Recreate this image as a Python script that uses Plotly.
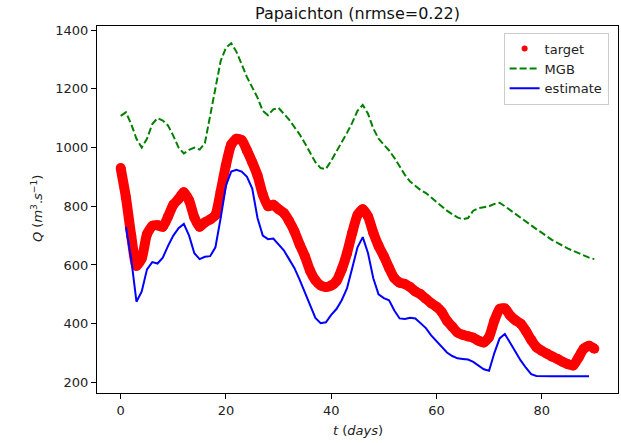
import plotly.graph_objects as go

days = list(range(0, 91))

target = [930, 830, 700, 597, 622, 705, 733, 735, 730, 765,
          805, 825, 848, 820, 762, 730, 745, 755, 770, 850,
          940, 1010, 1030, 1025, 990, 950, 905, 840, 800, 805,
          790, 777, 750, 715, 670, 630, 580, 548, 530, 525,
          530, 545, 585, 640, 710, 770, 790, 765, 710, 665,
          630, 590, 555, 540, 535, 525, 510, 500, 485, 470,
          458, 440, 410, 390, 370, 362, 357, 352, 342, 336,
          355, 410, 450, 452, 428, 412, 400, 375, 345, 320,
          308, 298, 288, 280, 270, 262, 258, 285, 315, 325,
          315]

mgb = [1108, 1120, 1080, 1030, 1000, 1030, 1080, 1100, 1092, 1075,
       1040, 1000, 980, 992, 1000, 993, 1015, 1110, 1210, 1295,
       1340, 1355, 1326, 1280, 1240, 1205, 1170, 1125, 1110, 1130,
       1135, 1115, 1095, 1070, 1045, 1015, 980, 950, 930, 927,
       955, 985, 1020, 1050, 1085, 1125, 1145, 1115, 1065, 1030,
       1010, 990, 965, 935, 907, 884, 868, 855, 845, 830,
       812, 797, 785, 773, 762, 756, 760, 785, 794, 797,
       800, 808, 812, 800, 787, 772, 758, 745, 735, 722,
       710, 697, 685, 675, 665, 656, 648, 640, 632, 625,
       620]

est_days = list(range(1, 91))
estimate = [730, 620, 475, 510, 585, 610, 605, 625, 665,
            700, 725, 740, 700, 640, 620, 628, 630, 660, 760,
            870, 918, 924, 918, 900, 860, 760, 700, 688, 690,
            670, 650, 620, 590, 550, 505, 460, 420, 402, 405,
            430, 450, 480, 520, 590, 660, 695, 640, 555, 500,
            487, 480, 445, 418, 416, 420, 418, 400, 385, 360,
            340, 320, 302, 290, 282, 280, 278, 270, 258, 245,
            240, 300, 350, 365, 335, 305, 275, 250, 228, 222,
            221, 221, 221, 221, 221, 221, 221, 221, 221, 221]

x_ticks = [0, 20, 40, 60, 80]
y_ticks = [200, 400, 600, 800, 1000, 1200, 1400]

FONT = "DejaVu Sans"

fig = go.Figure()

fig.add_trace(go.Scatter(
    x=days, y=target, mode="lines+markers", showlegend=False,
    line=dict(color="#ff0000", width=10, shape="spline", smoothing=0.6),
    marker=dict(color="#ff0000", size=10, line=dict(width=0)),
))
fig.add_trace(go.Scatter(
    x=[None], y=[None], mode="markers", name="target",
    marker=dict(color="#ff0000", size=6),
))
fig.add_trace(go.Scatter(
    x=days, y=mgb, mode="lines", name="MGB",
    line=dict(color="#008000", width=2, dash="7px,3px"),
))
fig.add_trace(go.Scatter(
    x=est_days, y=estimate, mode="lines", name="estimate",
    line=dict(color="#0000ff", width=2),
))

axis_common = dict(
    showgrid=False, zeroline=False, showline=True, mirror=True,
    linecolor="#000000", linewidth=1, automargin=False,
    ticks="outside", ticklen=5, tickwidth=1, tickcolor="#000000",
    tickfont=dict(family=FONT, size=13, color="#222222"),
)

fig.update_layout(
    width=621, height=443,
    margin=dict(l=97, r=3, t=26, b=50, autoexpand=False),
    paper_bgcolor="white", plot_bgcolor="white",
    font=dict(family=FONT, size=13, color="#222222"),
    title=dict(text="Papaichton (nrmse=0.22)", x=0.5, xref="paper", xanchor="center",
               y=1 - 13 / 443, yref="container", yanchor="middle",
               font=dict(family=FONT, size=16, color="#111111")),
    xaxis=dict(range=[-4.5, 94.5], tickvals=x_ticks, **axis_common),
    yaxis=dict(range=[164, 1414], tickvals=y_ticks, **axis_common),
    legend=dict(x=0.982, xanchor="right", y=0.982, yanchor="top",
                bgcolor="rgba(255,255,255,0.8)", bordercolor="#cccccc", borderwidth=1,
                font=dict(family=FONT, size=13, color="#222222"),
                tracegroupgap=0, itemwidth=30),
    annotations=[
        dict(text="<i>t</i> (<i>days</i>)", xref="paper", yref="paper",
             x=0.5, y=-(430 - 393) / 367, xanchor="center", yanchor="middle",
             showarrow=False, font=dict(family=FONT, size=13, color="#222222")),
        dict(text="<i>Q</i> (<i>m</i><sup>3</sup>.<i>s</i><sup>−1</sup>)", xref="paper", yref="paper",
             x=(37 - 97) / 521, y=(393 - 209) / 367, xanchor="center", yanchor="middle",
             textangle=-90, showarrow=False, font=dict(family=FONT, size=13, color="#222222")),
    ],
)

fig.write_html("out.html", config={"displayModeBar": False},
               post_script="document.body.style.margin='0';")
